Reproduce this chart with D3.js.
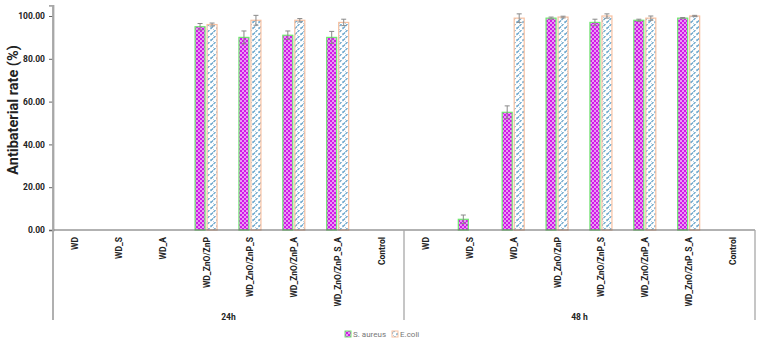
<!DOCTYPE html>
<html><head><meta charset="utf-8">
<script src="https://cdn.jsdelivr.net/npm/d3@7"></script>
<style>body{margin:0;background:#fff}svg{display:block}</style>
</head><body>
<svg id="c" width="764" height="343"></svg>
<script>
const samples = ["WD","WD_S","WD_A","WD_ZnO/ZnP","WD_ZnO/ZnP_S","WD_ZnO/ZnP_A","WD_ZnO/ZnP_S_A","Control"];
const groups = ["24h","48 h"];
const sAureus24 = [0,0,0,95,90,91,90,0];
const sAureus24Err = [0,0,0,1.5,3,2,2.8,0];
const eColi24 = [0,0,0,96,98,98,97,0];
const eColi24Err = [0,0,0,0.7,2.3,0.8,1.5,0];
const sAureus48 = [0,5,55,99,97,98,99,0];
const sAureus48Err = [0,2,3,0.5,1.5,0.5,0.3,0];
const eColi48 = [0,0,99,99.5,100,99,100,0];
const eColi48Err = [0,0,2,0.4,1,1,0.3,0];
const yTicks = [0,20,40,60,80,100];
const seriesNames = ["S. aureus","E.coli"];

const svg = d3.select("#c");
const defs = svg.append("defs");
const p1 = defs.append("pattern").attr("id","pS").attr("patternUnits","userSpaceOnUse").attr("width",4).attr("height",4);
p1.append("rect").attr("width",4).attr("height",4).attr("fill","#d21ae8");
p1.append("circle").attr("cx",1).attr("cy",1).attr("r",0.95).attr("fill","#f4d0fa");
p1.append("circle").attr("cx",3).attr("cy",3).attr("r",0.95).attr("fill","#f4d0fa");
const p2 = defs.append("pattern").attr("id","pE").attr("patternUnits","userSpaceOnUse").attr("width",6).attr("height",6);
p2.append("rect").attr("width",6).attr("height",6).attr("fill","#ffffff");
p2.append("path").attr("d","M0.5,5 L3,2.5 M3.5,2 L5.5,0").attr("stroke","#5f9fc8").attr("stroke-width",1.1);
p2.append("path").attr("d","M0,3 L1,4 M3,6 L4,5").attr("stroke","#9fc3dc").attr("stroke-width",0.8);

const x0 = 53, x1 = 755, y0 = 230;
const rows = [];
groups.forEach((g,gi)=>samples.forEach((s,si)=>rows.push({key:gi+"|"+s, g:gi, s:si})));
const x = d3.scaleBand().domain(rows.map(r=>r.key)).range([x0,x1]).padding(0);
const y = d3.scaleLinear().domain([0,105]).range([y0,5.3]);
const gx = d3.scaleBand().domain(groups).range([x0,x1]);

const bw = 11;
const data = [];
rows.forEach(r=>{
  const sa = r.g===0 ? sAureus24 : sAureus48, sae = r.g===0 ? sAureus24Err : sAureus48Err;
  const ec = r.g===0 ? eColi24 : eColi48, ece = r.g===0 ? eColi24Err : eColi48Err;
  const cx = x(r.key) + x.bandwidth()/2;
  data.push({x: cx-12, v: sa[r.s], e: sae[r.s], fill:"url(#pS)", stroke:"#6fe86f"});
  data.push({x: cx, v: ec[r.s], e: ece[r.s], fill:"url(#pE)", stroke:"#f7c0a0"});
});
const bars = data.filter(d=>d.v>0);
svg.append("g").selectAll("rect").data(bars).join("rect")
  .attr("x",d=>d.x+0.5).attr("y",d=>y(d.v)).attr("width",bw-1).attr("height",d=>y0-y(d.v))
  .attr("fill",d=>d.fill).attr("stroke",d=>d.stroke).attr("stroke-width",1.2);
const eb = svg.append("g").attr("stroke","#8a8a8a").attr("stroke-width",1);
bars.filter(d=>d.e>0).forEach(d=>{
  const cx = d.x + bw/2;
  eb.append("line").attr("x1",cx).attr("x2",cx).attr("y1",y(d.v+d.e)).attr("y2",y(d.v-d.e));
  eb.append("line").attr("x1",cx-2.5).attr("x2",cx+2.5).attr("y1",y(d.v+d.e)).attr("y2",y(d.v+d.e));
  eb.append("line").attr("x1",cx-2.5).attr("x2",cx+2.5).attr("y1",y(d.v-d.e)).attr("y2",y(d.v-d.e));
});

const ya = svg.append("g").attr("transform",`translate(${x0},0)`)
  .call(d3.axisLeft(y).tickValues(yTicks).tickFormat(d3.format(".2f")).tickSize(4).tickPadding(4));
ya.select(".domain").attr("stroke","#a8a8a8").attr("stroke-width",1.8);
ya.selectAll(".tick line").attr("stroke","#666");
ya.selectAll(".tick text").attr("font-family","Roboto, sans-serif").attr("font-weight","bold").attr("font-size",8.5).attr("fill","#222");

svg.append("line").attr("x1",x0).attr("x2",x1).attr("y1",y0).attr("y2",y0).attr("stroke","#666").attr("stroke-width",1.2);
[x0, gx(groups[1]), x1].forEach((xx,i)=>{
  svg.append("line").attr("x1",xx).attr("x2",xx).attr("y1",i===0?5:y0).attr("y2",320)
    .attr("stroke","#a8a8a8").attr("stroke-width",i===0?1.8:1.3);
});
svg.append("g").selectAll("text").data(rows).join("text")
  .attr("transform",r=>`translate(${x(r.key)+x.bandwidth()/2+3},237) rotate(-90)`)
  .attr("text-anchor","end").attr("font-family","Roboto, sans-serif").attr("font-weight","bold")
  .attr("font-size",8.5).attr("fill","#222").text(r=>samples[r.s]);
svg.append("g").selectAll("text").data(groups).join("text")
  .attr("x",g=>gx(g)+gx.bandwidth()/2).attr("y",320).attr("text-anchor","middle")
  .attr("font-family","Roboto, sans-serif").attr("font-weight","bold").attr("font-size",8.5).attr("fill","#222").text(g=>g);
svg.append("text").attr("transform","translate(18,110) rotate(-90)").attr("text-anchor","middle")
  .attr("font-family","Roboto, sans-serif").attr("font-weight","bold").attr("font-size",14.5).attr("fill","#222")
  .text("Antibaterial rate (%)");
const leg = svg.append("g");
const lx = [345, 392];
seriesNames.forEach((n,i)=>{
  leg.append("rect").attr("x",lx[i]).attr("y",331).attr("width",6).attr("height",6)
    .attr("fill",i===0?"url(#pS)":"url(#pE)").attr("stroke",i===0?"#6fe86f":"#f7c0a0").attr("stroke-width",1);
  leg.append("text").attr("x",lx[i]+8).attr("y",337).attr("font-family","Roboto, sans-serif")
    .attr("font-size",8).attr("fill","#777").text(n);
});
</script>
</body></html>
